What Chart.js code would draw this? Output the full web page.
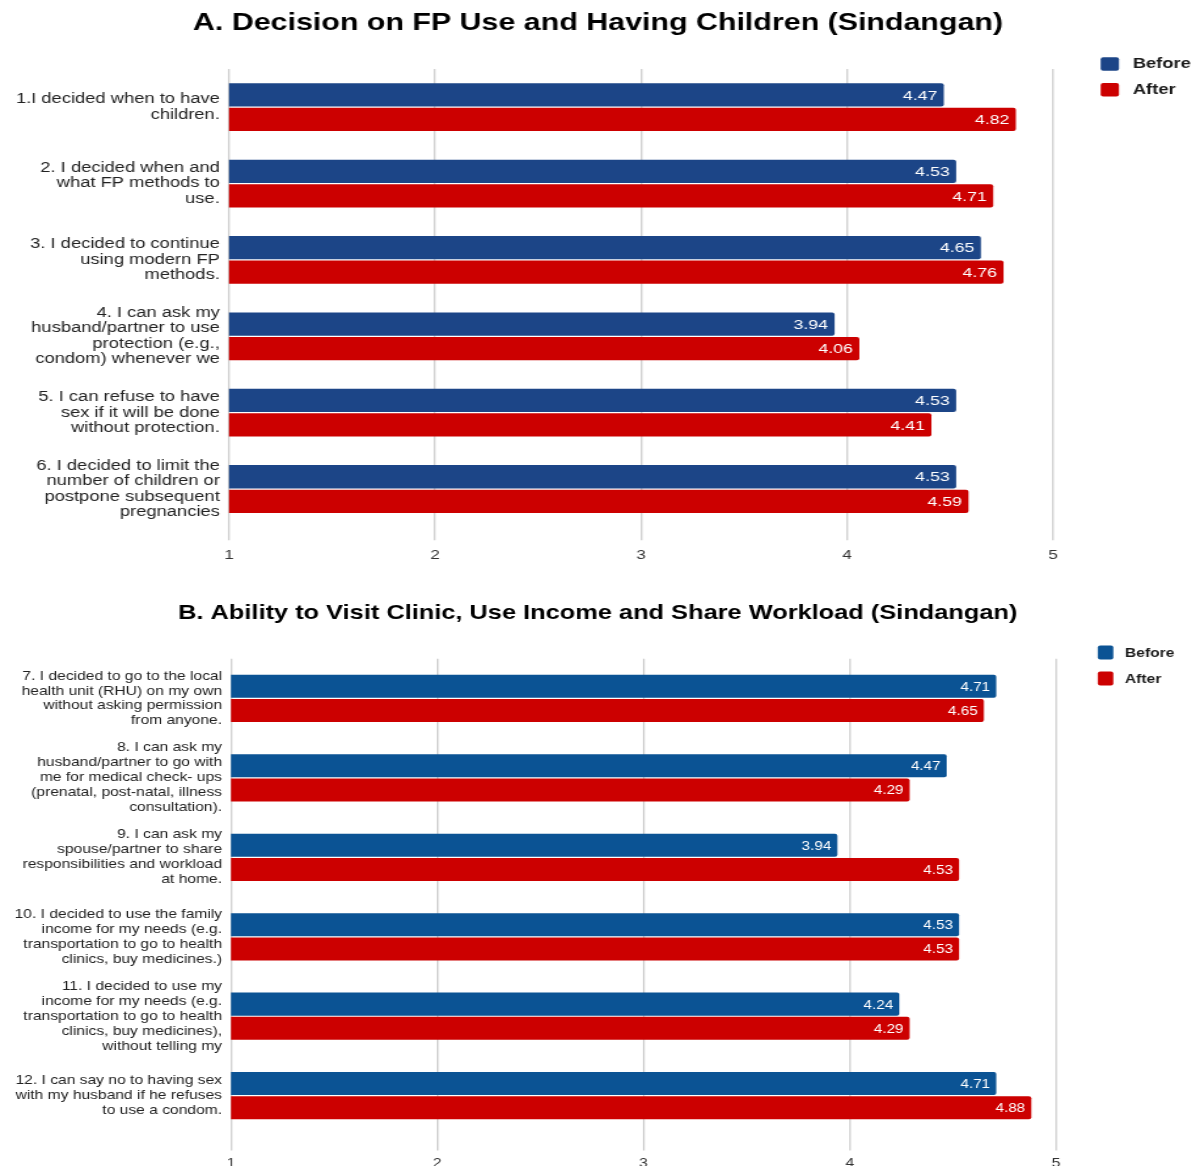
<!DOCTYPE html>
<html>
<head>
<meta charset="utf-8">
<script src="https://cdn.jsdelivr.net/npm/chart.js@4.4.1/dist/chart.umd.min.js"></script>
<style>
  html, body { margin: 0; padding: 0; background: #fff; overflow: hidden; width: 1196px; height: 1166px; }
  .panel { position: absolute; left: 0; transform-origin: 0 0; }
  #wrapA { top: 0; transform: scaleX(1.31); }
  #wrapB { top: 584px; transform: scaleX(1.22); }
  canvas { display: block; }
</style>
</head>
<body>
<div class="panel" id="wrapA"><canvas id="chartA" width="913" height="580"></canvas></div>
<div class="panel" id="wrapB"><canvas id="chartB" width="980" height="596"></canvas></div>
<script>
// Panel A: decision on FP use and having children
const titleA = 'A. Decision on FP Use and Having Children (Sindangan)';
const itemsA = [
  ['1.I decided when to have', 'children.'],
  ['2. I decided when and', 'what FP methods to', 'use.'],
  ['3. I decided to continue', 'using modern FP', 'methods.'],
  ['4. I can ask my', 'husband/partner to use', 'protection (e.g.,', 'condom) whenever we'],
  ['5. I can refuse to have', 'sex if it will be done', 'without protection.'],
  ['6. I decided to limit the', 'number of children or', 'postpone subsequent', 'pregnancies']
];
const beforeA = [4.47, 4.53, 4.65, 3.94, 4.53, 4.53];
const afterA  = [4.82, 4.71, 4.76, 4.06, 4.41, 4.59];

// Panel B: ability to visit clinic, use income and share workload
const titleB = 'B. Ability to Visit Clinic, Use Income and Share Workload (Sindangan)';
const itemsB = [
  ['7. I decided to go to the local', 'health unit (RHU) on my own', 'without asking permission', 'from anyone.'],
  ['8. I can ask my', 'husband/partner to go with', 'me for medical check- ups', '(prenatal, post-natal, illness', 'consultation).'],
  ['9. I can ask my', 'spouse/partner to share', 'responsibilities and workload', 'at home.'],
  ['10. I decided to use the family', 'income for my needs (e.g.', 'transportation to go to health', 'clinics, buy medicines.)'],
  ['11. I decided to use my', 'income for my needs (e.g.', 'transportation to go to health', 'clinics, buy medicines),', 'without telling my'],
  ['12. I can say no to having sex', 'with my husband if he refuses', 'to use a condom.']
];
const beforeB = [4.71, 4.47, 3.94, 4.53, 4.24, 4.71];
const afterB  = [4.65, 4.29, 4.53, 4.53, 4.29, 4.88];

// Shared scale and series names
const scaleMin = 1;
const scaleMax = 5;
const seriesNames = ['Before', 'After'];

const FONT = '"Liberation Sans", Arial, Helvetica, sans-serif';
Chart.defaults.font.family = FONT;
Chart.defaults.animation = false;

// White value text at the inner end of each bar
const barValueLabels = {
  id: 'barValueLabels',
  afterDatasetsDraw(chart, args, opts) {
    const ctx = chart.ctx;
    ctx.save();
    ctx.font = opts.size + 'px ' + FONT;
    ctx.fillStyle = '#ffffff';
    ctx.textAlign = 'right';
    ctx.textBaseline = 'middle';
    chart.data.datasets.forEach((ds, i) => {
      chart.getDatasetMeta(i).data.forEach((bar, j) => {
        ctx.fillText(ds.data[j].toFixed(2), bar.x - opts.inset, bar.y + 1);
      });
    });
    ctx.restore();
  }
};

// Legend in the right-hand gutter next to the plot
const sideLegend = {
  id: 'sideLegend',
  afterDraw(chart, args, opts) {
    const ctx = chart.ctx;
    const right = chart.chartArea.right;
    ctx.save();
    ctx.font = 'bold ' + opts.size + 'px ' + FONT;
    ctx.textAlign = 'left';
    ctx.textBaseline = 'middle';
    chart.data.datasets.forEach((ds, i) => {
      const cy = opts.top + i * opts.spacing;
      ctx.fillStyle = ds.backgroundColor;
      ctx.beginPath();
      ctx.roundRect(right + opts.boxOffset, cy - opts.boxHeight / 2, opts.boxWidth, opts.boxHeight, 2);
      ctx.fill();
      ctx.fillStyle = '#1a1a1a';
      ctx.fillText(ds.label, right + opts.textOffset, cy + 0.5);
    });
    ctx.restore();
  }
};

function buildChart(id, p) {
  return new Chart(document.getElementById(id), {
    type: 'bar',
    data: {
      labels: p.labels,
      datasets: [
        { label: seriesNames[0], data: p.before, backgroundColor: p.blue, yAxisID: 'y', xAxisID: 'x' },
        { label: seriesNames[1], data: p.after, backgroundColor: '#cc0000', yAxisID: 'y', xAxisID: 'x' }
      ]
    },
    options: {
      indexAxis: 'y',
      responsive: false,
      maintainAspectRatio: false,
      devicePixelRatio: 1,
      layout: { padding: { left: 0, right: 0, top: 0, bottom: p.padBottom } },
      datasets: {
        bar: {
          categoryPercentage: p.catPct,
          barPercentage: 0.95,
          borderRadius: 2,
          borderSkipped: 'left'
        }
      },
      scales: {
        x: {
          type: 'linear',
          position: 'bottom',
          min: scaleMin,
          max: scaleMax,
          ticks: { stepSize: 1, color: '#333', padding: p.tickPad, font: { size: 13 } },
          grid: { color: '#d0d0d0', lineWidth: 1.4, tickLength: p.tickLen, drawTicks: true },
          border: { display: false }
        },
        y: {
          type: 'category',
          position: 'left',
          grid: { display: false, drawTicks: false, tickLength: 0 },
          border: { display: false },
          ticks: { color: '#222', padding: p.labelPad, font: { size: p.labelSize, lineHeight: p.labelLH }, autoSkip: false },
          afterFit(s) { s.width = p.leftWidth; }
        },
        gutter: {
          type: 'linear',
          axis: 'y',
          position: 'right',
          display: true,
          ticks: { display: false },
          grid: { display: false, drawTicks: false },
          border: { display: false },
          afterFit(s) { s.width = p.gutterWidth; }
        }
      },
      plugins: {
        legend: { display: false },
        tooltip: { enabled: false },
        title: {
          display: true,
          text: p.title,
          color: '#000',
          font: { size: p.titleSize, weight: 'bold' },
          padding: { top: p.titleTop, bottom: p.titleBottom }
        },
        barValueLabels: { size: p.valueSize, inset: 5 },
        sideLegend: p.legend
      }
    },
    plugins: [barValueLabels, sideLegend]
  });
}

buildChart('chartA', {
  labels: itemsA, before: beforeA, after: afterA, title: titleA,
  blue: '#1c4587',
  titleSize: 23.2, titleTop: 10, titleBottom: 31.2,
  padBottom: 9.4, tickLen: 13, tickPad: 7.4,
  catPct: 0.642, labelPad: 7, labelSize: 14, labelLH: 1.1,
  leftWidth: 174.8, gutterWidth: 109.2, valueSize: 13.5,
  legend: { size: 14, top: 64, spacing: 25.8, boxOffset: 36.4, boxWidth: 14, boxHeight: 13.5, textOffset: 60.9 }
});

buildChart('chartB', {
  labels: itemsB, before: beforeB, after: afterB, title: titleB,
  blue: '#0b5394',
  titleSize: 20.8, titleTop: 16.5, titleBottom: 33.3,
  padBottom: 3.4, tickLen: 15, tickPad: 5.3,
  catPct: 0.61, labelPad: 7.3, labelSize: 12.8, labelLH: 1.17,
  leftWidth: 189.3, gutterWidth: 114.4, valueSize: 12.5,
  legend: { size: 12.8, top: 68.5, spacing: 26, boxOffset: 34.2, boxWidth: 12.8, boxHeight: 14, textOffset: 56.5 }
});
</script>
</body>
</html>
